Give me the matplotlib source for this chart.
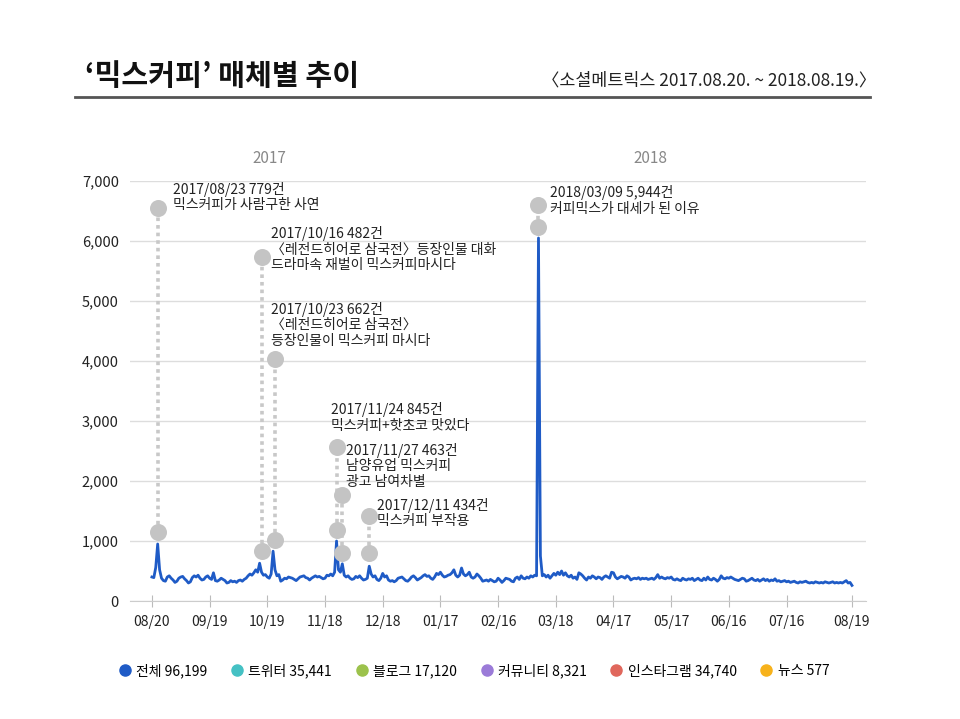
import pandas as pd
import matplotlib.pyplot as plt
from matplotlib.lines import Line2D

plt.rcParams['font.family'] = ['Noto Sans CJK KR', 'DejaVu Sans']

## daily totals 2017-08-20 ~ 2018-08-19
total = [
    400, 390, 560, 950, 520, 380, 340,
    330, 400, 420, 380, 350, 310, 330,
    380, 400, 410, 370, 340, 300, 320,
    390, 420, 400, 430, 380, 350, 360,
    400, 420, 380, 360, 470, 340, 330,
    350, 380, 360, 340, 300, 310, 340,
    320, 330, 310, 340, 350, 330, 360,
    380, 420, 450, 430, 470, 520, 480,
    630, 480, 430, 440, 400, 380, 450,
    830, 520, 420, 440, 330, 350, 380,
    370, 400, 390, 380, 360, 340, 370,
    400, 410, 420, 390, 380, 350, 380,
    400, 420, 400, 410, 390, 370, 380,
    430, 420, 450, 420, 480, 1000, 520,
    480, 620, 430, 400, 420, 380, 360,
    370, 410, 390, 420, 380, 350, 360,
    380, 580, 450, 400, 420, 360, 340,
    380, 460, 400, 420, 350, 330, 340,
    320, 340, 380, 390, 400, 370, 340,
    330, 360, 400, 420, 390, 350, 370,
    390, 420, 440, 410, 420, 380, 360,
    400, 460, 440, 480, 430, 400, 410,
    430, 440, 470, 520, 430, 400, 430,
    550, 450, 420, 440, 480, 400, 380,
    400, 450, 420, 380, 330, 340, 350,
    330, 360, 340, 320, 330, 380, 350,
    310, 340, 380, 370, 360, 330, 320,
    380, 400, 360, 420, 380, 370, 400,
    380, 420, 400, 430, 420, 6050, 750,
    420, 440, 400, 430, 380, 420, 460,
    430, 480, 440, 500, 430, 470, 420,
    400, 430, 380, 400, 360, 470, 450,
    420, 380, 350, 400, 380, 420, 400,
    370, 400, 390, 360, 400, 420, 400,
    380, 480, 470, 400, 370, 390, 410,
    400, 380, 420, 400, 350, 370, 380,
    370, 390, 360, 380, 370, 380, 360,
    370, 380, 360, 390, 440, 380, 400,
    380, 370, 390, 380, 400, 360, 350,
    370, 350, 340, 380, 360, 350, 370,
    360, 380, 340, 360, 380, 350, 340,
    380, 350, 400, 360, 350, 380, 360,
    330, 360, 420, 380, 370, 390, 380,
    400, 380, 360, 350, 340, 360, 380,
    370, 330, 340, 360, 380, 350, 340,
    360, 330, 350, 370, 340, 360, 330,
    350, 340, 370, 330, 340, 320, 330,
    340, 320, 330, 310, 320, 330, 310,
    300, 320, 310, 320, 330, 310, 300,
    310, 300, 320, 310, 300, 310, 300,
    320, 310, 300, 310, 320, 300, 310,
    300, 310, 300, 320, 340, 300, 310,
    260,
]
dates = pd.date_range('2017-08-20', '2018-08-19', freq='D')

tick_dates = ['2017-08-20', '2017-09-19', '2017-10-19', '2017-11-18', '2017-12-18',
              '2018-01-17', '2018-02-16', '2018-03-18', '2018-04-17', '2018-05-17',
              '2018-06-16', '2018-07-16', '2018-08-19']
tick_labels = ['08/20', '09/19', '10/19', '11/18', '12/18', '01/17', '02/16',
               '03/18', '04/17', '05/17', '06/16', '07/16', '08/19']

# event notes: date, label
note_dates = ['2017-08-23', '2017-10-16', '2017-10-23', '2017-11-24',
              '2017-11-27', '2017-12-11', '2018-03-09']
note_texts = [
    '2017/08/23 779건\n믹스커피가 사람구한 사연',
    '2017/10/16 482건\n〈레전드히어로 삼국전〉등장인물 대화\n드라마속 재벌이 믹스커피마시다',
    '2017/10/23 662건\n〈레전드히어로 삼국전〉\n등장인물이 믹스커피 마시다',
    '2017/11/24 845건\n믹스커피+핫초코 맛있다',
    '2017/11/27 463건\n남양유업 믹스커피\n광고 남여차별',
    '2017/12/11 434건\n믹스커피 부작용',
    '2018/03/09 5,944건\n커피믹스가 대세가 된 이유',
]
# layout of the pins: (top circle, bottom circle) heights, text offset (days, top y)
pin_heights = [(6550, 1150), (5730, 830), (4030, 1020), (2570, 1180),
               (1770, 800), (1420, 800), (6600, 6230)]
text_pos = [(8, 6990), (5, 6250), (-2, 4990), (-3, 3310), (2, 2640), (4, 1720), (6, 6930)]

legend_names = ['전체', '트위터', '블로그', '커뮤니티', '인스타그램', '뉴스']
legend_counts = ['96,199', '35,441', '17,120', '8,321', '34,740', '577']
legend_colors = ['#1f5bc6', '#45c1c4', '#9cc24c', '#9b7bd8', '#e0675c', '#f7b21b']

fig = plt.figure(figsize=(9.6, 7.19), dpi=100)
ax = fig.add_axes([0.1354, 0.1641, 0.9021 - 0.1354, 0.7483 - 0.1641])

ax.plot(dates, total, color='#1f5bc6', lw=2.0, zorder=3, solid_joinstyle='round')

for d, (top, bot), (dx, ty), txt in zip(note_dates, pin_heights, text_pos, note_texts):
    d = pd.Timestamp(d)
    ax.plot([d, d], [bot, top], color='#c8c8c8', lw=2.6, ls=(0, (1, 1.1)),
            zorder=2, clip_on=False)
    ax.scatter([d, d], [top, bot], s=150, color='#c4c4c4', zorder=4,
               clip_on=False, linewidths=0)
    ax.text(d + pd.Timedelta(days=dx), ty, txt, fontsize=10, va='top', ha='left',
            color='#222222', linespacing=1.15, zorder=5)

ax.set_xlim(pd.Timestamp('2017-08-20') - pd.Timedelta(days=11.4),
            pd.Timestamp('2017-08-20') + pd.Timedelta(days=371.3))
ax.set_ylim(0, 7000)
ax.set_yticks(range(0, 7001, 1000))
ax.set_yticklabels([f'{v:,}' for v in range(0, 7001, 1000)])
ax.set_xticks(pd.to_datetime(tick_dates))
ax.set_xticklabels(tick_labels)
ax.grid(axis='y', color='#dddddd', lw=1)
ax.set_axisbelow(True)
for s in ['top', 'right', 'left']:
    ax.spines[s].set_visible(False)
ax.spines['bottom'].set_color('#cccccc')
ax.tick_params(axis='y', length=0, pad=8, labelsize=10.5, colors='#222222')
ax.tick_params(axis='x', direction='inout', length=8, color='#bbbbbb',
               pad=6, labelsize=10, labelcolor='#222222')

ax.text(pd.Timestamp('2017-10-20'), 7370, '2017', ha='center', va='center',
        fontsize=11, color='#888888')
ax.text(pd.Timestamp('2018-05-06'), 7370, '2018', ha='center', va='center',
        fontsize=11, color='#888888')

## title block
fig.text(0.089, 0.894, '‘믹스커피’ 매체별 추이', fontsize=21, fontweight='bold',
         ha='left', va='center', color='#111111')
fig.text(0.913, 0.888, '〈소셜메트릭스 2017.08.20. ~ 2018.08.19.〉', fontsize=12.5,
         ha='right', va='center', color='#222222')
fig.add_artist(Line2D([0.078, 0.906], [0.865, 0.865], color='#555555', lw=2))

handles = [Line2D([], [], marker='o', ls='', color=c, markersize=8) for c in legend_colors]
labels = [f'{n} {c}' for n, c in zip(legend_names, legend_counts)]
fig.legend(handles, labels, loc='center', bbox_to_anchor=(0.494, 0.067), ncol=6,
           frameon=False, fontsize=10, handlelength=0.8, handletextpad=0.4,
           columnspacing=1.75)

fig.savefig('out.png', dpi=100)
